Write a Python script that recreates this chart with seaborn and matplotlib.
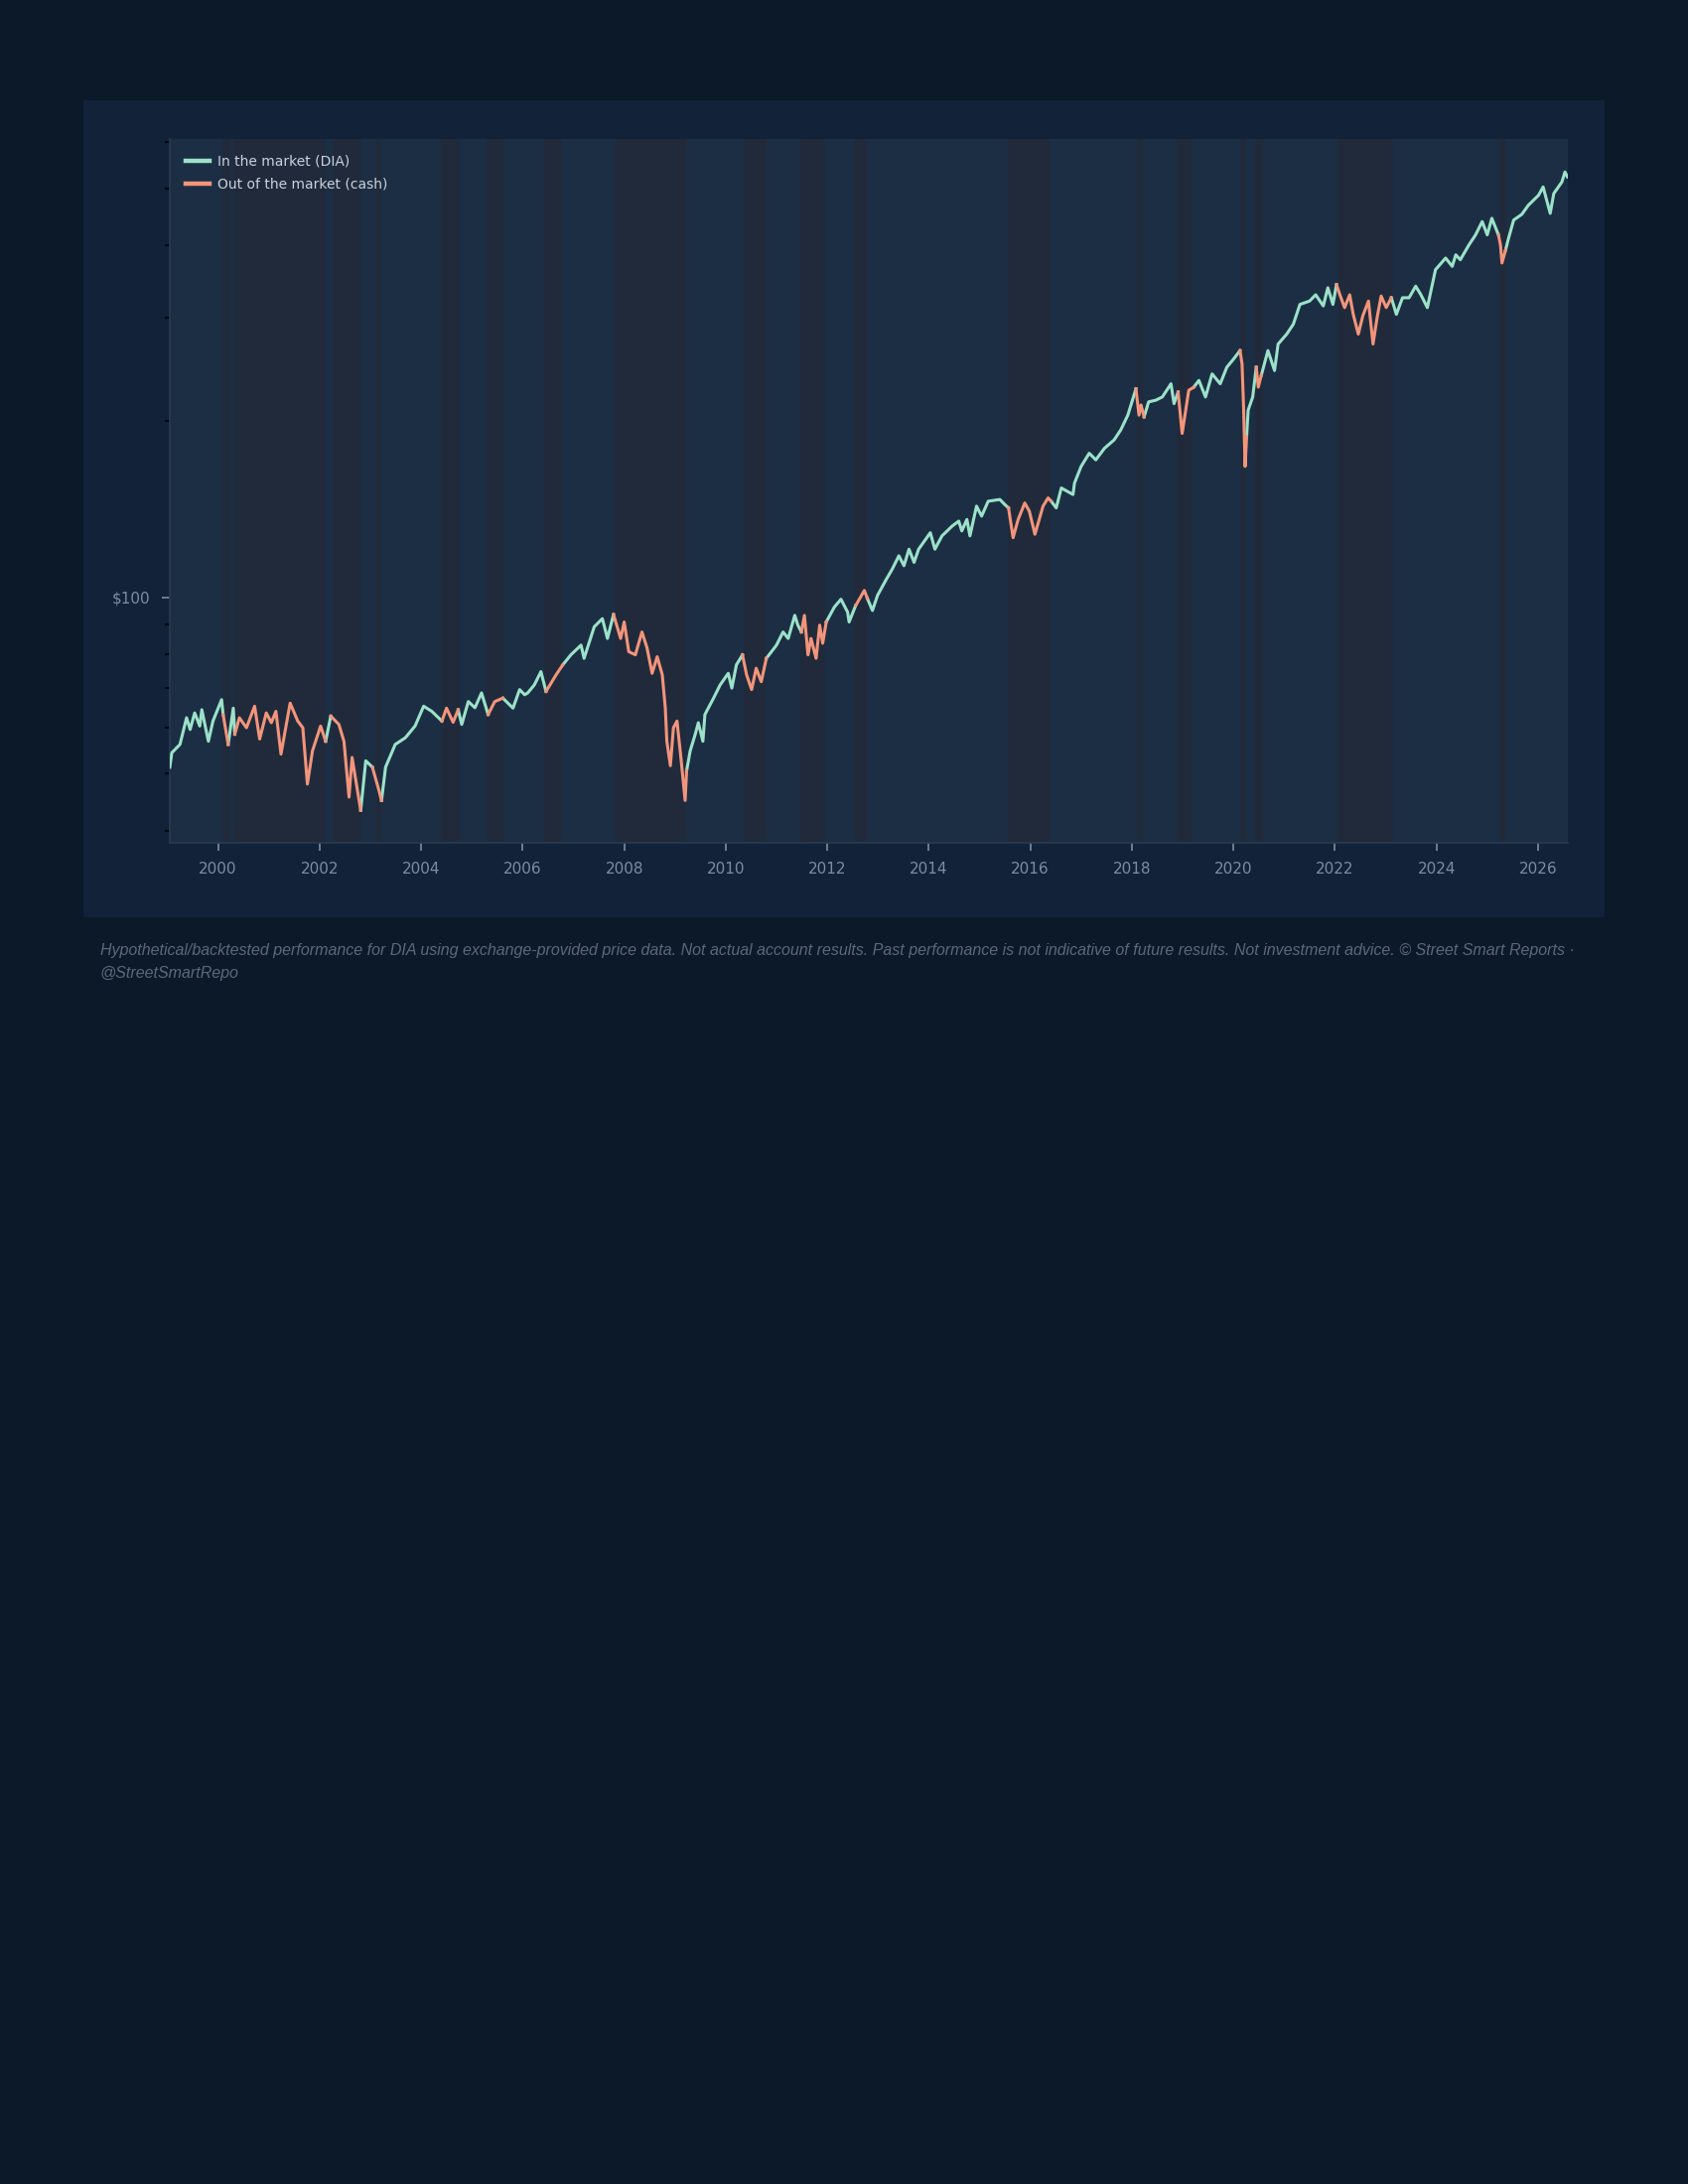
import numpy as np
import pandas as pd
import matplotlib
matplotlib.use('Agg')
import matplotlib.pyplot as plt
import seaborn as sns
from matplotlib.patches import Rectangle
from matplotlib.ticker import FixedLocator, NullFormatter, FuncFormatter

# ------------------------------------------------------------
# DIA price path (decimal year, $)
# ------------------------------------------------------------
years = [
    1999.05, 1999.09, 1999.25, 1999.38, 1999.45, 1999.54, 1999.64, 1999.68, 1999.81, 1999.90,
    2000.07, 2000.10, 2000.20, 2000.30, 2000.33, 2000.42, 2000.56, 2000.72, 2000.82, 2000.95,
    2001.05, 2001.14, 2001.24, 2001.42, 2001.57, 2001.67, 2001.76, 2001.86, 2002.02, 2002.12,
    2002.22, 2002.38, 2002.48, 2002.58, 2002.64, 2002.81, 2002.91, 2003.04, 2003.17, 2003.22,
    2003.30, 2003.49, 2003.69, 2003.88, 2004.05, 2004.21, 2004.41, 2004.50, 2004.63, 2004.73,
    2004.80, 2004.93, 2005.06, 2005.19, 2005.32, 2005.45, 2005.61, 2005.81, 2005.94, 2006.04,
    2006.10, 2006.23, 2006.36, 2006.46, 2006.56, 2006.66, 2006.79, 2006.95, 2007.15, 2007.21,
    2007.41, 2007.57, 2007.67, 2007.79, 2007.93, 2008.00, 2008.09, 2008.22, 2008.35, 2008.45,
    2008.55, 2008.65, 2008.75, 2008.81, 2008.84, 2008.91, 2008.97, 2009.04, 2009.11, 2009.20,
    2009.23, 2009.30, 2009.40, 2009.46, 2009.55, 2009.59, 2009.76, 2009.89, 2010.05, 2010.12,
    2010.21, 2010.33, 2010.41, 2010.51, 2010.60, 2010.70, 2010.80, 2011.00, 2011.13, 2011.23,
    2011.36, 2011.42, 2011.49, 2011.55, 2011.62, 2011.68, 2011.78, 2011.85, 2011.91, 2011.98,
    2012.14, 2012.27, 2012.40, 2012.43, 2012.56, 2012.64, 2012.73, 2012.79, 2012.89, 2012.99,
    2013.15, 2013.28, 2013.41, 2013.51, 2013.61, 2013.71, 2013.80, 2014.03, 2014.12, 2014.26,
    2014.46, 2014.59, 2014.65, 2014.75, 2014.81, 2014.94, 2015.04, 2015.17, 2015.40, 2015.49,
    2015.57, 2015.66, 2015.76, 2015.89, 2015.98, 2016.09, 2016.25, 2016.35, 2016.41, 2016.51,
    2016.61, 2016.84, 2016.87, 2017.00, 2017.16, 2017.29, 2017.46, 2017.65, 2017.78, 2017.92,
    2018.08, 2018.14, 2018.18, 2018.24, 2018.33, 2018.47, 2018.60, 2018.77, 2018.83, 2018.91,
    2018.99, 2019.12, 2019.22, 2019.32, 2019.45, 2019.58, 2019.74, 2019.87, 2020.00, 2020.13,
    2020.17, 2020.20, 2020.23, 2020.26, 2020.29, 2020.38, 2020.45, 2020.49, 2020.55, 2020.68,
    2020.81, 2020.88, 2021.05, 2021.18, 2021.31, 2021.50, 2021.62, 2021.77, 2021.86, 2021.96,
    2022.03, 2022.09, 2022.19, 2022.29, 2022.36, 2022.46, 2022.55, 2022.66, 2022.75, 2022.83,
    2022.91, 2023.01, 2023.11, 2023.21, 2023.33, 2023.46, 2023.59, 2023.69, 2023.82, 2023.98,
    2024.18, 2024.31, 2024.38, 2024.47, 2024.64, 2024.77, 2024.90, 2025.00, 2025.09, 2025.22,
    2025.26, 2025.29, 2025.36, 2025.42, 2025.52, 2025.68, 2025.81, 2026.01, 2026.10, 2026.24,
    2026.31, 2026.47, 2026.53, 2026.58,
]

prices = [
    51.3, 54.3, 56.1, 62.3, 59.5, 63.5, 60.3, 64.3, 56.8, 61.5,
    66.9, 63.1, 56.1, 64.7, 58.4, 62.3, 59.9, 65.2, 57.3, 63.5,
    61.1, 63.9, 54.0, 66.0, 61.5, 59.9, 48.0, 54.7, 60.3, 56.8,
    62.7, 60.7, 56.8, 45.6, 53.3, 43.3, 52.6, 51.3, 46.8, 45.0,
    51.3, 56.1, 57.6, 60.3, 65.2, 63.9, 61.5, 64.7, 61.2, 64.3,
    60.7, 66.4, 64.8, 68.7, 63.1, 66.4, 67.3, 64.7, 69.6, 68.2,
    68.7, 70.9, 74.7, 69.1, 71.4, 73.8, 76.7, 79.8, 82.9, 78.7,
    89.1, 92.0, 85.1, 93.5, 85.1, 90.8, 80.8, 79.8, 87.3, 82.0,
    74.2, 79.2, 73.8, 64.7, 56.8, 51.6, 59.9, 61.5, 54.0, 45.0,
    50.6, 54.7, 58.4, 61.1, 56.8, 63.1, 67.3, 70.9, 74.2, 70.0,
    76.7, 79.8, 73.8, 69.6, 75.7, 71.8, 78.7, 82.9, 87.3, 85.1,
    93.2, 89.7, 87.3, 93.2, 79.8, 85.1, 78.7, 89.7, 83.5, 90.8,
    96.3, 99.3, 94.4, 90.8, 96.9, 99.6, 102.8, 99.6, 95.0, 100.8,
    106.9, 111.8, 117.8, 113.3, 120.9, 114.8, 120.9, 129.0, 120.9, 127.4,
    132.4, 135.0, 129.9, 135.9, 127.4, 143.2, 137.7, 146.0, 147.0, 144.3,
    142.2, 126.5, 135.9, 145.0, 140.4, 128.2, 143.2, 147.9, 146.0, 142.2,
    153.8, 149.9, 156.8, 167.4, 176.3, 171.8, 179.8, 185.8, 193.2, 204.8,
    227.2, 204.8, 213.2, 203.4, 215.8, 217.2, 220.0, 231.7, 214.3, 224.3,
    190.6, 225.8, 228.7, 234.8, 220.0, 240.9, 231.7, 247.3, 255.2, 264.0,
    250.6, 211.6, 167.4, 188.2, 208.8, 220.0, 247.3, 228.7, 239.7, 264.0,
    244.1, 270.9, 281.7, 292.9, 316.6, 320.8, 328.8, 314.7, 338.0, 316.6,
    342.2, 330.1, 312.6, 328.8, 304.5, 281.7, 302.9, 320.8, 270.9, 300.6,
    327.2, 312.6, 325.0, 304.5, 325.0, 325.0, 340.1, 329.2, 312.6, 362.9,
    379.9, 367.7, 384.8, 377.4, 400.2, 416.2, 438.5, 416.2, 444.2, 416.2,
    400.2, 372.6, 392.0, 410.8, 441.2, 451.1, 467.7, 486.3, 502.5, 452.9,
    489.6, 512.5, 532.9, 522.6,
]

# periods spent out of the market (in cash)
out_start = [2000.09, 2000.32, 2002.26, 2003.10, 2004.38, 2005.29, 2006.43, 2007.81, 2010.35,
             2011.46, 2012.52, 2015.55, 2018.10, 2018.88, 2020.14, 2020.42, 2022.05, 2025.24]
out_end   = [2000.24, 2002.13, 2002.83, 2003.22, 2004.76, 2005.63, 2006.78, 2009.22, 2010.78,
             2011.96, 2012.77, 2016.40, 2018.21, 2019.18, 2020.26, 2020.58, 2023.14, 2025.38]

x_ticks = list(range(2000, 2027, 2))
y_minor = [40, 50, 60, 70, 80, 90, 200, 300, 400, 500, 600]

IN_LBL = 'In the market (DIA)'
OUT_LBL = 'Out of the market (cash)'
FOOTER = ('Hypothetical/backtested performance for DIA using exchange-provided price data. '
          'Not actual account results. Past performance is not indicative of future results. '
          'Not investment advice. \u00a9 Street Smart Reports \u00b7\n@StreetSmartRepo')

# colours
BG_OUTER = '#0b1929'
BG_PANEL = '#112239'
BG_AXES = '#1c2e44'
SHADE = '#212a3b'
GREEN = '#9be2c9'
ORANGE = '#f2957b'
TICK = '#7f8ca0'

# ------------------------------------------------------------
# split the path into runs coloured by regime
# ------------------------------------------------------------
yr = np.array(years)
px = np.array(prices)
mid = (yr[:-1] + yr[1:]) / 2
seg_out = np.zeros(len(mid), dtype=bool)
for s, e in zip(out_start, out_end):
    seg_out |= (mid >= s) & (mid <= e)

rows = []
run = 0
for i in range(len(mid)):
    if i > 0 and seg_out[i] != seg_out[i - 1]:
        run += 1
    lbl = OUT_LBL if seg_out[i] else IN_LBL
    rows.append((yr[i], px[i], lbl, run))
    rows.append((yr[i + 1], px[i + 1], lbl, run))
path = pd.DataFrame(rows, columns=['year', 'price', 'regime', 'run']).drop_duplicates()

# ------------------------------------------------------------
# figure
# ------------------------------------------------------------
plt.rcParams['font.family'] = ['DejaVu Sans']

fig = plt.figure(figsize=(17, 22), dpi=100, facecolor=BG_OUTER)
fig.patches.append(Rectangle((0.0494, 0.58), 0.9012, 0.3741, transform=fig.transFigure,
                             facecolor=BG_PANEL, edgecolor='none', zorder=-5))

ax = fig.add_axes([0.1006, 0.6141, 0.828, 0.3223])
ax.set_facecolor(BG_AXES)

for s, e in zip(out_start, out_end):
    ax.axvspan(s, e, color=SHADE, lw=0, zorder=0)

sns.lineplot(data=path, x='year', y='price', hue='regime', units='run', estimator=None,
             sort=False, hue_order=[IN_LBL, OUT_LBL], palette={IN_LBL: GREEN, OUT_LBL: ORANGE},
             lw=2.2, ax=ax, zorder=3)

ax.set_yscale('log')
ax.set_xlim(years[0], years[-1])
ax.set_ylim(38.1, 607)
ax.set_xlabel('')
ax.set_ylabel('')

ax.set_xticks(x_ticks)
ax.set_xticklabels([str(t) for t in x_ticks])
ax.yaxis.set_major_locator(FixedLocator([100]))
ax.yaxis.set_major_formatter(FuncFormatter(lambda v, p: f'${v:.0f}'))
ax.yaxis.set_minor_locator(FixedLocator(y_minor))
ax.yaxis.set_minor_formatter(NullFormatter())
ax.tick_params(axis='both', which='major', colors=TICK, labelsize=11, length=6, width=1.2, pad=8)
ax.tick_params(axis='y', which='minor', colors='black', length=3.5, width=1.2)
ax.tick_params(axis='x', which='minor', length=0)

for side in ['top', 'right']:
    ax.spines[side].set_visible(False)
for side in ['left', 'bottom']:
    ax.spines[side].set_color('#2a3a50')
    ax.spines[side].set_linewidth(1.2)

leg = ax.legend(loc='upper left', frameon=False, fontsize=10, labelcolor='#c9d1db',
                handlelength=1.7, handletextpad=0.6, borderaxespad=0.75, labelspacing=0.65)
for h in leg.get_lines():
    h.set_linewidth(3.2)

fig.text(0.0594, 0.568, FOOTER, ha='left', va='top', fontsize=11.5, style='italic',
         color='#5b687b', family=['Liberation Sans', 'DejaVu Sans'],
         linespacing=1.65)

fig.savefig('out.png', dpi=100, facecolor=BG_OUTER)
